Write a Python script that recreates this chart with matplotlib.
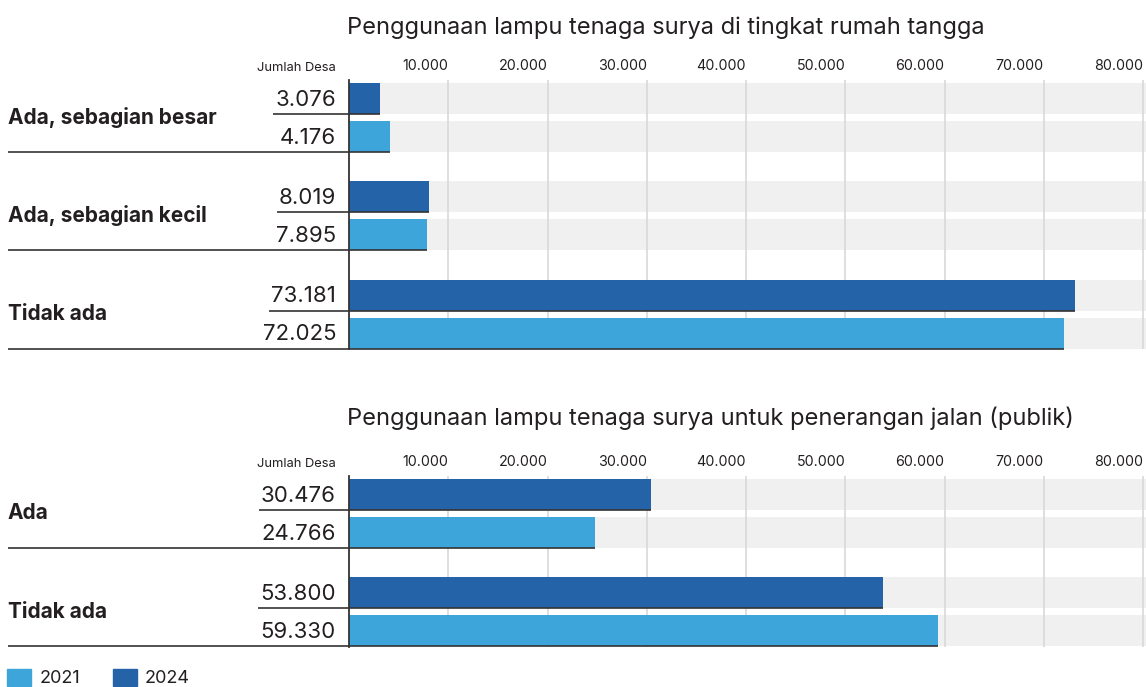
import matplotlib
matplotlib.use("Agg")
import matplotlib.pyplot as plt
from matplotlib.patches import Patch
from matplotlib import transforms

# data
judul1 = "Penggunaan lampu tenaga surya di tingkat rumah tangga"
kategori1 = ["Ada, sebagian besar", "Ada, sebagian kecil", "Tidak ada"]
nilai1_2024 = [3076, 8019, 73181]
nilai1_2021 = [4176, 7895, 72025]

judul2 = "Penggunaan lampu tenaga surya untuk penerangan jalan (publik)"
kategori2 = ["Ada", "Tidak ada"]
nilai2_2024 = [30476, 53800]
nilai2_2021 = [24766, 59330]

ticks = [10000, 20000, 30000, 40000, 50000, 60000, 70000, 80000]
tahun = ["2021", "2024"]

# style
biru_tua = "#2563a8"
biru_muda = "#3ea5db"
abu = "#f0f0f0"
grid_c = "#d6d6d6"
teks_c = "#231f20"
garis_c = "#333333"
plt.rcParams['font.family'] = ['Inter', 'DejaVu Sans']

W, H = 1146, 687
fig = plt.figure(figsize=(W / 100, H / 100), dpi=100)

X0 = 349            # pixel of value 0
X80 = 1143          # pixel of value 80000
XMAX = 80000 * (W - X0) / (X80 - X0)


def fmt(v):
    return f"{v:,}".replace(",", ".")


def px2data(xp):
    return (xp - X0) * 80000 / (X80 - X0)


def panel(judul, kategori, v24, v21, top, bottom, title_y):
    ax = fig.add_axes([X0 / W, 1 - bottom / H, (W - X0) / W, (bottom - top) / H])
    ax.set_xlim(0, XMAX)
    ax.set_ylim(bottom - top, 0)
    for s in ["top", "right", "bottom"]:
        ax.spines[s].set_visible(False)
    ax.spines["left"].set_color(garis_c)
    ax.spines["left"].set_linewidth(1.3)
    ax.spines["left"].set_zorder(5)
    ax.set_yticks([])
    ax.xaxis.tick_top()
    ax.set_xticks(ticks)
    ax.set_xticklabels([fmt(t) for t in ticks], fontsize=10.3, color=teks_c)
    ax.tick_params(axis="x", length=0, pad=5)
    for lb in ax.get_xticklabels():
        lb.set_horizontalalignment("right")
    for t in ticks:
        ax.axvline(t, color=grid_c, lw=1.1, zorder=1)

    pitch = 98.5
    off = 18
    bh = 31
    gap = 38
    tr = transforms.blended_transform_factory(fig.transFigure, ax.transData)
    fig.text(336 / W, 1 - (top - 12) / H, "Jumlah Desa", ha="right", va="center",
             fontsize=9.3, color=teks_c)

    texts = []
    for i, kat in enumerate(kategori):
        y24 = off + i * pitch
        y21 = y24 + gap
        ax.barh([y24, y21], [XMAX, XMAX], height=bh, color=abu, zorder=0)
        ax.barh(y24, v24[i], height=bh, color=biru_tua, zorder=2)
        ax.barh(y21, v21[i], height=bh, color=biru_muda, zorder=2)
        ax.text(8 / W, (y24 + y21) / 2, kat, transform=tr, ha="left", va="center",
                fontsize=15, fontweight="bold", color=teks_c)
        t = ax.text(336 / W, y24 + 1.5, fmt(v24[i]), transform=tr, ha="right",
                    va="center", fontsize=16, color=teks_c)
        ax.text(336 / W, y21 + 1.5, fmt(v21[i]), transform=tr, ha="right",
                va="center", fontsize=16, color=teks_c)
        texts.append((t, y24, y21, v24[i], v21[i]))

    fig.text(347 / W, 1 - title_y / H, judul, ha="left", va="center",
             fontsize=17, color=teks_c)
    return ax, texts, bh


ax1, t1, bh = panel(judul1, kategori1, nilai1_2024, nilai1_2021, 80, 349, 28)
ax2, t2, _ = panel(judul2, kategori2, nilai2_2024, nilai2_2021, 476, 647, 418)

fig.canvas.draw()
for ax, tt in [(ax1, t1), (ax2, t2)]:
    for t, y24, y21, a, b in tt:
        left = t.get_window_extent().x0 - 2
        ax.plot([px2data(left), a], [y24 + bh / 2] * 2, color=garis_c, lw=1.2,
                clip_on=False, zorder=6, solid_capstyle="butt")
        ax.plot([px2data(8), b], [y21 + bh / 2] * 2, color=garis_c, lw=1.2,
                clip_on=False, zorder=6, solid_capstyle="butt")

handles = [Patch(color=biru_muda), Patch(color=biru_tua)]
fig.legend(handles, tahun, loc="center left", bbox_to_anchor=(0.0, 1 - 678 / H), ncol=2,
           frameon=False, fontsize=13, handlelength=1.33, handleheight=1.1,
           handletextpad=0.45, columnspacing=1.8, borderaxespad=0.3,
           borderpad=0.1, labelcolor=teks_c)

fig.savefig("out.png", dpi=100)
